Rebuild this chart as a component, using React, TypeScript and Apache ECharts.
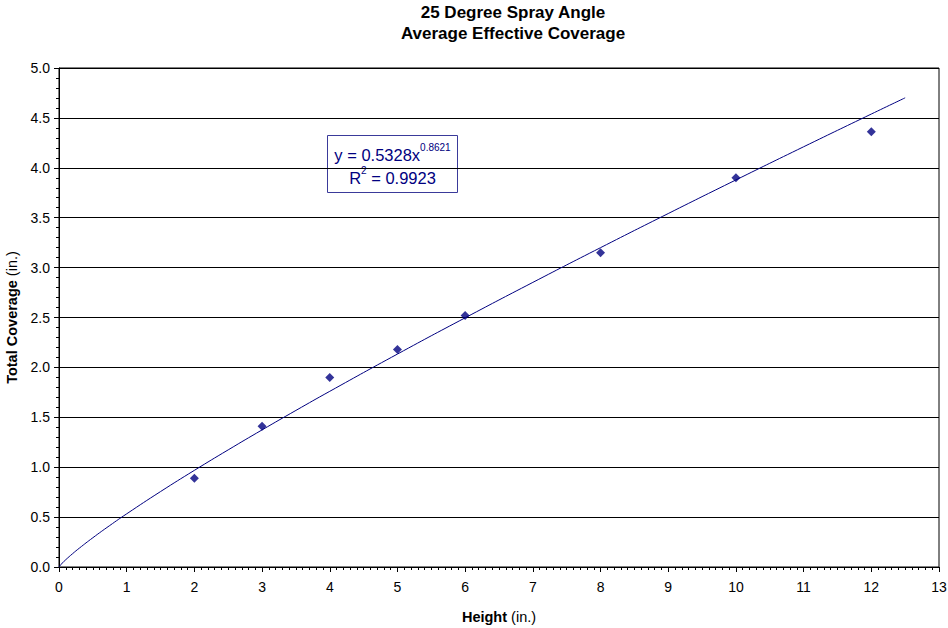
import React, { useEffect, useRef } from "react";
import * as echarts from "echarts";

const heights = [2, 3, 4, 5, 6, 8, 10, 12];
const coverage = [0.89, 1.41, 1.9, 2.18, 2.52, 3.15, 3.9, 4.36];
const trendCoef = 0.5328;
const trendExp = 0.8621;
const trendR2 = 0.9923;
const trendXs = [0, 0.05, 0.1, 0.2, 0.3, 0.5, 0.75, 1, 1.5, 2, 2.5, 3, 3.5, 4, 5, 6, 7, 8, 9, 10, 11, 12, 12.5];
const titleLines = ["25 Degree Spray Angle", "Average Effective Coverage"];

const FONT = "Arial, 'Liberation Sans', Helvetica, sans-serif";

export default function App() {
  const ref = useRef<HTMLDivElement>(null);
  useEffect(() => {
    const chart = echarts.init(ref.current!, null, { renderer: "svg" });
    const trend = trendXs.map((x) => [x, trendCoef * Math.pow(x, trendExp)]);
    const supStyle = { fontFamily: FONT, fontSize: 10, fill: "#000080", verticalAlign: "top", lineHeight: 24 };
    const nameStyle = {
      fontFamily: FONT,
      fontSize: 14.5,
      color: "#000",
      rich: { b: { fontFamily: FONT, fontSize: 14.5, fontWeight: "bold", color: "#000" } },
    };
    chart.setOption({
      animation: false,
      backgroundColor: "#fff",
      textStyle: { fontFamily: FONT },
      title: {
        text: titleLines.join("\n"),
        left: 513,
        textAlign: "center",
        top: 2,
        padding: 0,
        textStyle: { fontFamily: FONT, fontSize: 17, fontWeight: "bold", color: "#000", lineHeight: 21 },
      },
      grid: {
        left: 59,
        right: 9,
        top: 68,
        bottom: 61,
        outerBoundsMode: "none",
        containLabel: false,
        show: true,
        borderColor: "#000",
        borderWidth: 1,
        backgroundColor: "transparent",
      },
      xAxis: {
        type: "value",
        min: 0,
        max: 13,
        interval: 1,
        name: "{b|Height} (in.)",
        nameLocation: "middle",
        nameGap: 42,
        nameTextStyle: nameStyle,
        axisLine: { show: true, onZero: false, lineStyle: { color: "#000", width: 1 } },
        axisTick: { show: true, length: 5, lineStyle: { color: "#000" } },
        minorTick: { show: true, splitNumber: 10, length: 3, lineStyle: { color: "#000" } },
        axisLabel: { fontFamily: FONT, fontSize: 14, color: "#000", margin: 13 },
        splitLine: { show: false },
      },
      yAxis: {
        type: "value",
        min: 0,
        max: 5,
        interval: 0.5,
        name: "{b|Total Coverage} (in.)",
        nameLocation: "middle",
        nameGap: 33,
        nameTextStyle: nameStyle,
        axisLine: { show: true, onZero: false, lineStyle: { color: "#000", width: 1 } },
        axisTick: { show: true, length: 5, lineStyle: { color: "#000" } },
        minorTick: { show: true, splitNumber: 5, length: 3, lineStyle: { color: "#000" } },
        axisLabel: {
          fontFamily: FONT,
          fontSize: 14,
          color: "#000",
          margin: 9,
          formatter: (v: number) => v.toFixed(1),
        },
        splitLine: { show: true, lineStyle: { color: "#000", width: 1 } },
      },
      series: [
        {
          type: "line",
          data: trend,
          smooth: true,
          showSymbol: false,
          symbol: "none",
          lineStyle: { color: "#000080", width: 1 },
          z: 2,
        },
        {
          type: "scatter",
          data: heights.map((h, i) => [h, coverage[i]]),
          symbol: "diamond",
          symbolSize: 9,
          itemStyle: { color: "#000080" },
          z: 3,
        },
      ],
      graphic: [
        {
          type: "group",
          left: 327,
          top: 135,
          children: [
            {
              type: "rect",
              shape: { x: 0, y: 0, width: 130, height: 57 },
              style: { fill: "#fff", stroke: "#3a3a9a", lineWidth: 1 },
            },
            {
              type: "text",
              x: 65,
              y: 19,
              style: {
                text: "y = " + trendCoef.toFixed(4) + "x{sup|" + trendExp.toFixed(4) + "}",
                fontFamily: FONT,
                fontSize: 16.5,
                fill: "#000080",
                align: "center",
                verticalAlign: "middle",
                rich: { sup: supStyle },
              },
            },
            {
              type: "text",
              x: 65,
              y: 42,
              style: {
                text: "R{sup|2} = " + trendR2.toFixed(4),
                fontFamily: FONT,
                fontSize: 16.5,
                fill: "#000080",
                align: "center",
                verticalAlign: "middle",
                rich: { sup: supStyle },
              },
            },
          ],
        },
      ],
    });
    return () => chart.dispose();
  }, []);
  return <div ref={ref} style={{ width: 948, height: 628, position: "absolute", left: 0, top: 0 }} />;
}
